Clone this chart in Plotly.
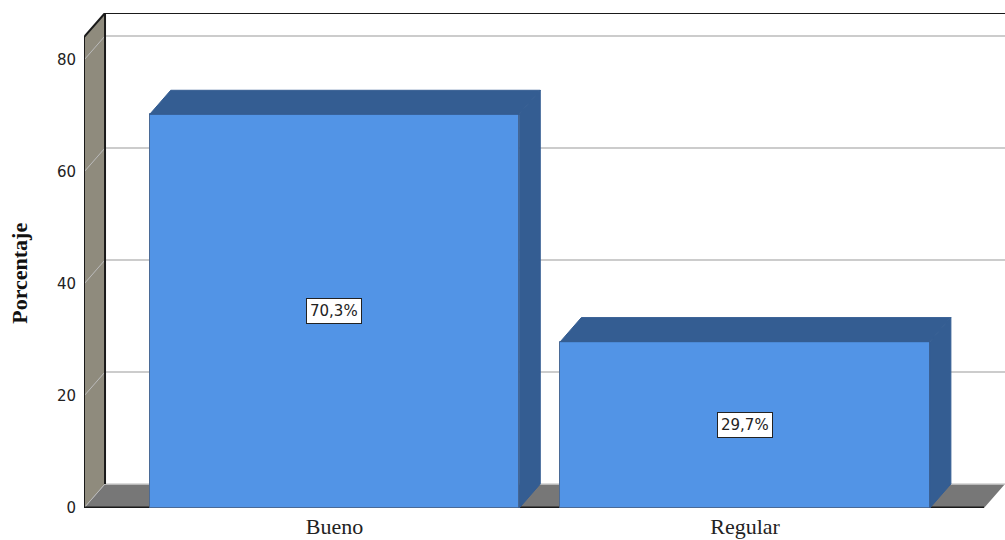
import plotly.graph_objects as go

categories = ["Bueno", "Regular"]
values = [70.3, 29.7]
labels = ["70,3%", "29,7%"]
y_ticks = [0, 20, 40, 60, 80]
y_title = "Porcentaje"

BAR_W = 0.9
DX, DY = 0.0512, 4.3
X0, X1 = -0.61, 1.633
Y_TOP = 84.1
BLUE, DARK = "#5294e6", "#345d92"
WALL, FLOOR = "#8f8b7d", "#777777"
GRID = "#cccccc"
INK = "#1a1a1a"

xs = list(range(len(categories)))
fig = go.Figure()


def poly(points, fill, line=None, width=0):
    path = "M " + " L ".join(f"{x},{y}" for x, y in points) + " Z"
    return dict(type="path", path=path, xref="x", yref="y", layer="below",
                fillcolor=fill, line=dict(color=line or fill, width=width))


def seg(x0, y0, x1, y1, color, width):
    return dict(type="line", x0=x0, y0=y0, x1=x1, y1=y1, xref="x", yref="y",
                layer="below", line=dict(color=color, width=width))


shapes = [
    poly([(X0, 0), (X0 + DX, DY), (X0 + DX, Y_TOP + DY), (X0, Y_TOP)], WALL),
    poly([(X0, 0), (X0 + DX, DY), (X1, DY), (X1 - DX, 0)], FLOOR),
]
for t in y_ticks:
    if t:
        shapes.append(seg(X0 + DX, t + DY, X1, t + DY, GRID, 2))
    shapes.append(seg(X0, t, X0 + DX, t + DY, "#bbbbbb", 1))
shapes += [
    seg(X0 + DX, DY, X1, DY, "#cfcfcf", 1.5),
    seg(X0, 0, X0, Y_TOP, INK, 2),
    seg(X0, Y_TOP, X0 + DX, Y_TOP + DY, INK, 2),
    seg(X0 + DX, DY, X0 + DX, Y_TOP + DY, INK, 2),
    seg(X0 + DX, Y_TOP + DY, X1, Y_TOP + DY, INK, 2),
    seg(X0, 0, X1 - DX, 0, INK, 3),
]

fig.add_trace(go.Bar(x=xs, y=values, width=BAR_W,
                     marker=dict(color=BLUE, line=dict(color="#4a6a96", width=1)),
                     hoverinfo="skip", showlegend=False))

for x, v in zip(xs, values):
    left, right = x - BAR_W / 2, x + BAR_W / 2
    fig.add_trace(go.Scatter(
        x=[right, right + DX, right + DX, right, right],
        y=[0, DY, v + DY, v, 0], fill="toself", fillcolor=DARK, mode="lines",
        line=dict(color=DARK, width=1), hoverinfo="skip", showlegend=False))
    fig.add_trace(go.Scatter(
        x=[left, left + DX, right + DX, right, left],
        y=[v, v + DY, v + DY, v, v], fill="toself", fillcolor=DARK, mode="lines",
        line=dict(color=DARK, width=1), hoverinfo="skip", showlegend=False))

annotations = [
    dict(x=x, y=v / 2, text=t, showarrow=False, bgcolor="white",
         bordercolor="#222222", borderwidth=1, borderpad=3,
         font=dict(family="DejaVu Sans", size=15, color="#222222"))
    for x, v, t in zip(xs, values, labels)
]
annotations.append(dict(
    xref="paper", yref="y", x=-0.0695, y=42, xanchor="center", yanchor="middle",
    text=f"<b>{y_title}</b>", textangle=-90, showarrow=False,
    font=dict(family="Liberation Serif", size=22, color="#111111")))

fig.update_layout(
    width=1005, height=540, autosize=False,
    margin=dict(l=84, r=0, t=13, b=32, autoexpand=False),
    paper_bgcolor="white", plot_bgcolor="white",
    shapes=shapes, annotations=annotations, bargap=0,
    xaxis=dict(range=[X0, X1], tickvals=xs, ticktext=categories, showgrid=False,
               automargin=False,
               zeroline=False, showline=False, ticks="", ticklabelstandoff=3,
               tickfont=dict(family="Liberation Serif", size=22, color="#222222")),
    yaxis=dict(range=[0, Y_TOP + DY], tickvals=y_ticks, showgrid=False,
               automargin=False,
               zeroline=False, showline=False, ticks="", ticklabelstandoff=7,
               tickfont=dict(family="DejaVu Sans", size=15, color="#222222")),
)

fig.write_html("out.html", config=dict(displayModeBar=False),
               post_script="document.body.style.margin='0';document.body.style.overflow='hidden';")
